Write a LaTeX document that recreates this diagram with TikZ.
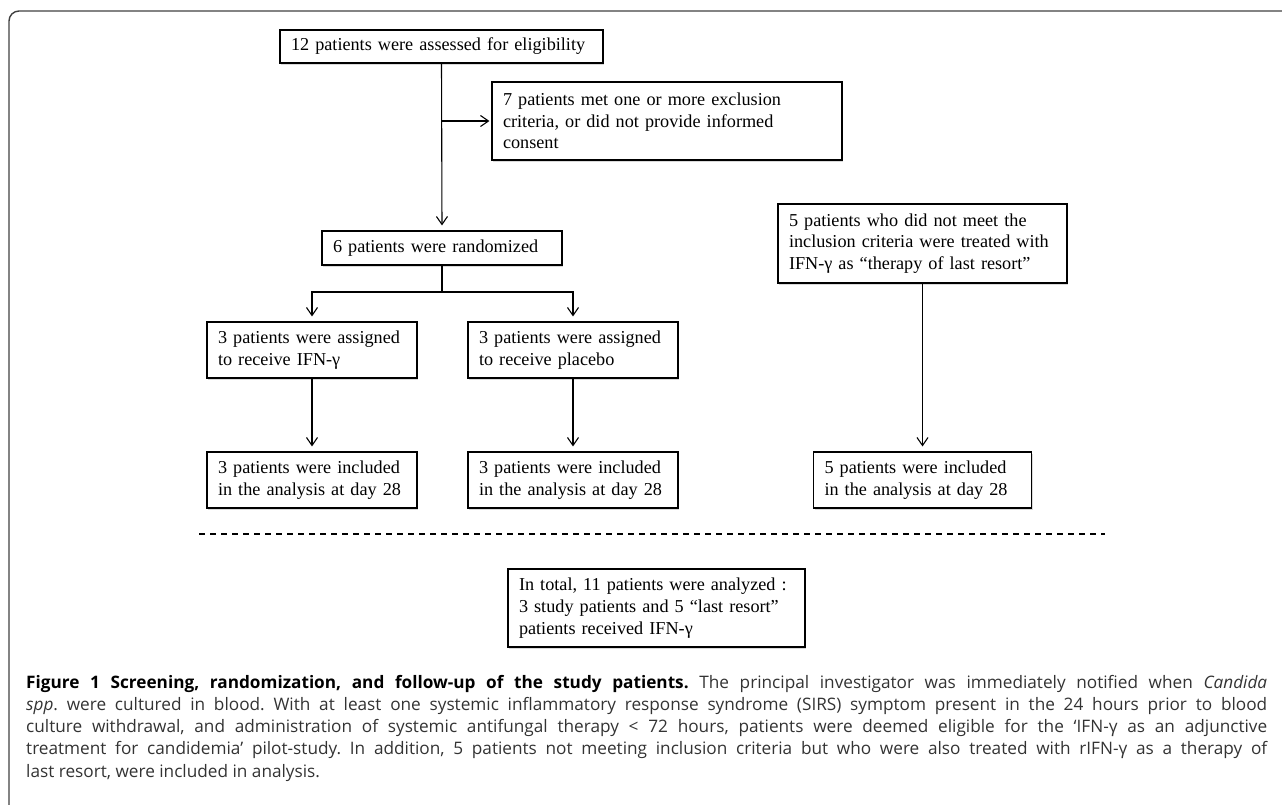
\documentclass[tikz,border=0pt]{standalone}
\usepackage{fontspec}
\setmainfont{Liberation Serif}
\newfontfamily\capfont{Open Sans}
\usepackage{tikz}
\usepackage{graphicx, xcolor}
\usetikzlibrary{arrows.meta, shadows}
\frenchspacing

\tikzset{
    flowbox/.style={draw, line width=1.1pt, fill=white, align=left, inner xsep=11pt, inner ysep=0pt,
        font=\fontsize{18.2}{21.7}\selectfont,
        drop shadow={shadow xshift=1.2pt, shadow yshift=-1.8pt, opacity=0.3}},
    flowarrow/.style={line width=1.1pt, -{Straight Barb[length=8pt, width=11pt]}, shorten >=5pt}
}

\begin{document}
\begin{tikzpicture}[x=1pt, y=-1pt]

            \useasboundingbox (0,0) rectangle (1282,804);
            \draw[line width=1.4pt, black!75, rounded corners=10pt] (9,11) rectangle (1300,820);

            \node[flowbox, text width=301pt, minimum height=33pt] (elig) at (441.5,46.5) {12 patients were assessed for eligibility};
            \node[flowbox, text width=328pt, minimum height=78pt] (excl) at (667,121) {7 patients met one or more exclusion\\criteria, or did not provide informed\\consent};
            \node[flowbox, text width=218pt, minimum height=34pt] (rand) at (442,248) {6 patients were randomized};
            \node[flowbox, text width=188pt, minimum height=56pt] (ifn) at (312,350) {3 patients were assigned\\to receive IFN-γ};
            \node[flowbox, text width=188pt, minimum height=56pt] (plac) at (573,350) {3 patients were assigned\\to receive placebo};
            \node[flowbox, text width=267pt, minimum height=79pt] (resort) at (922.5,243.5) {5 patients who did not meet the\\inclusion criteria were treated with\\IFN-γ as “therapy of last resort”};
            \node[flowbox, text width=188pt, minimum height=56pt] (incA) at (312,480) {3 patients were included\\in the analysis at day 28};
            \node[flowbox, text width=188pt, minimum height=56pt] (incB) at (573,480) {3 patients were included\\in the analysis at day 28};
            \node[flowbox, text width=196pt, minimum height=56pt] (incC) at (922.5,480) {5 patients were included\\in the analysis at day 28};
            \node[flowbox, text width=275pt, minimum height=78pt] (total) at (656.5,608) {In total, 11 patients were analyzed :\\3 study patients and 5 “last resort”\\patients received IFN-γ};

            \coordinate (fork) at (442,292);
            \coordinate (dashL) at (199,534);
            \coordinate (dashR) at (1105,534);

            \draw[flowarrow] (elig.south) -- (rand.north);
            \draw[flowarrow, shorten >=2pt] (elig.south |- excl.west) -- (excl.west);
            \draw[line width=1.1pt] (rand.south) -- (fork);
            \foreach \b in {ifn, plac}
            {
                \draw[flowarrow] (fork) -| (\b.north);
            }
            \foreach \a/\b in {ifn/incA, plac/incB, resort/incC}
            {
                \draw[flowarrow] (\a.south) -- (\b.north);
            }
            \draw[line width=1.1pt, dash pattern=on 6pt off 5pt] (dashL) -- (dashR);

            \node[anchor=north west, inner sep=0pt, text width=1241pt, align=justify, text=black!80,
                font=\capfont\fontsize{17.2}{22.2}\selectfont] (caption) at (26,675)
                {\textbf{\color{black}Figure 1 Screening, randomization, and follow-up of the study patients.} The principal investigator was immediately notified when \textit{Candida}\linebreak
                \textit{spp}. were cultured in blood. With at least one systemic inflammatory response syndrome (SIRS) symptom present in the 24 hours prior to blood\linebreak
                culture withdrawal, and administration of systemic antifungal therapy < 72 hours, patients were deemed eligible for the ‘IFN-γ as an adjunctive\linebreak
                treatment for candidemia’ pilot-study. In addition, 5 patients not meeting inclusion criteria but who were also treated with rIFN-γ as a therapy of\linebreak
                last resort, were included in analysis.};

\end{tikzpicture}
\end{document}
